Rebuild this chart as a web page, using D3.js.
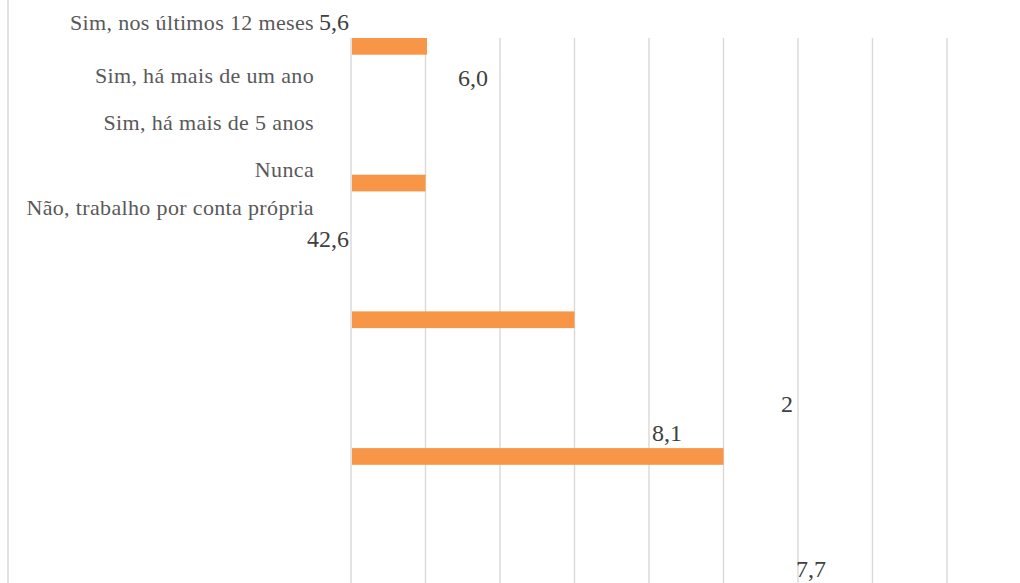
<!DOCTYPE html>
<html>
<head>
<meta charset="utf-8">
<script src="https://cdn.jsdelivr.net/npm/d3@7"></script>
<style>
  body { margin: 0; background: #fff; }
  .container svg { display: block; }
</style>
</head>
<body>
<div class="container"></div>
<script>
const WIDTH = 1020;
const HEIGHT = 583;

// category labels (as shown, left column)
var categories = [
    "Sim, nos últimos 12 meses",
    "Sim, há mais de um ano",
    "Sim, há mais de 5 anos",
    "Nunca",
    "Não, trabalho por conta própria"
];

// bar lengths (grid step = 5)
var barIds = ["b1", "b2", "b3", "b4"];
var barValues = [5.1, 5.0, 15.0, 25.0];

// data labels as printed (scattered in the picture)
var valueLabels = ["5,6", "6,0", "42,6", "2", "8,1", "7,7"];

var xTicks = [0, 5, 10, 15, 20, 25, 30, 35, 40];

// layout only
var catBaselines = [30, 83, 130, 177, 215];
var labelPos = [
    {x: 349, y: 30, anchor: "end"},
    {x: 488, y: 86, anchor: "end"},
    {x: 349, y: 247, anchor: "end"},
    {x: 793, y: 412, anchor: "end"},
    {x: 682, y: 441, anchor: "end"},
    {x: 826, y: 577, anchor: "end"}
];

var load = function(){
    var svg = d3.select(".container")
        .append("svg")
        .attr("width", WIDTH)
        .attr("height", HEIGHT);

    var x = d3.scaleLinear()
        .domain([0, 40])
        .range([351, 947]);

    var y = d3.scaleBand()
        .domain(barIds)
        .range([38, 38 + 4 * 136.7])
        .paddingInner(0);

    // left frame line
    svg.append("line")
        .attr("x1", 8).attr("x2", 8)
        .attr("y1", 0).attr("y2", HEIGHT)
        .style("stroke", "#d9d9d9")
        .style("stroke-width", 1.5);

    // vertical gridlines
    svg.selectAll("line.grid")
        .data(xTicks)
        .enter()
        .append("line")
        .attr("class", "grid")
        .attr("x1", function(d){ return x(d)})
        .attr("x2", function(d){ return x(d)})
        .attr("y1", 38)
        .attr("y2", HEIGHT)
        .style("stroke", "#d9d9d9")
        .style("stroke-width", 1.4);

    // bars
    svg.selectAll("rect.bar")
        .data(barValues)
        .enter()
        .append("rect")
        .attr("class", "bar")
        .attr("x", x(0) + 1)
        .attr("y", function(d, i){ return y(barIds[i])})
        .attr("width", function(d){ return x(d) - x(0) - 1})
        .attr("height", 16.7)
        .style("fill", "#f79646");

    // category labels
    svg.selectAll("text.cat")
        .data(categories)
        .enter()
        .append("text")
        .attr("class", "cat")
        .attr("x", 314)
        .attr("y", function(d, i){ return catBaselines[i]})
        .attr("text-anchor", "end")
        .style("font-family", "'Liberation Serif', serif")
        .style("font-size", "22px")
        .style("letter-spacing", "0.35px")
        .style("fill", "#595959")
        .text(function(d){ return d});

    // data labels
    svg.selectAll("text.val")
        .data(valueLabels)
        .enter()
        .append("text")
        .attr("class", "val")
        .attr("x", function(d, i){ return labelPos[i].x})
        .attr("y", function(d, i){ return labelPos[i].y})
        .attr("text-anchor", function(d, i){ return labelPos[i].anchor})
        .style("font-family", "'Liberation Serif', serif")
        .style("font-size", "24px")
        .style("fill", "#404040")
        .text(function(d){ return d});
};

window.onload = load;
</script>
</body>
</html>
